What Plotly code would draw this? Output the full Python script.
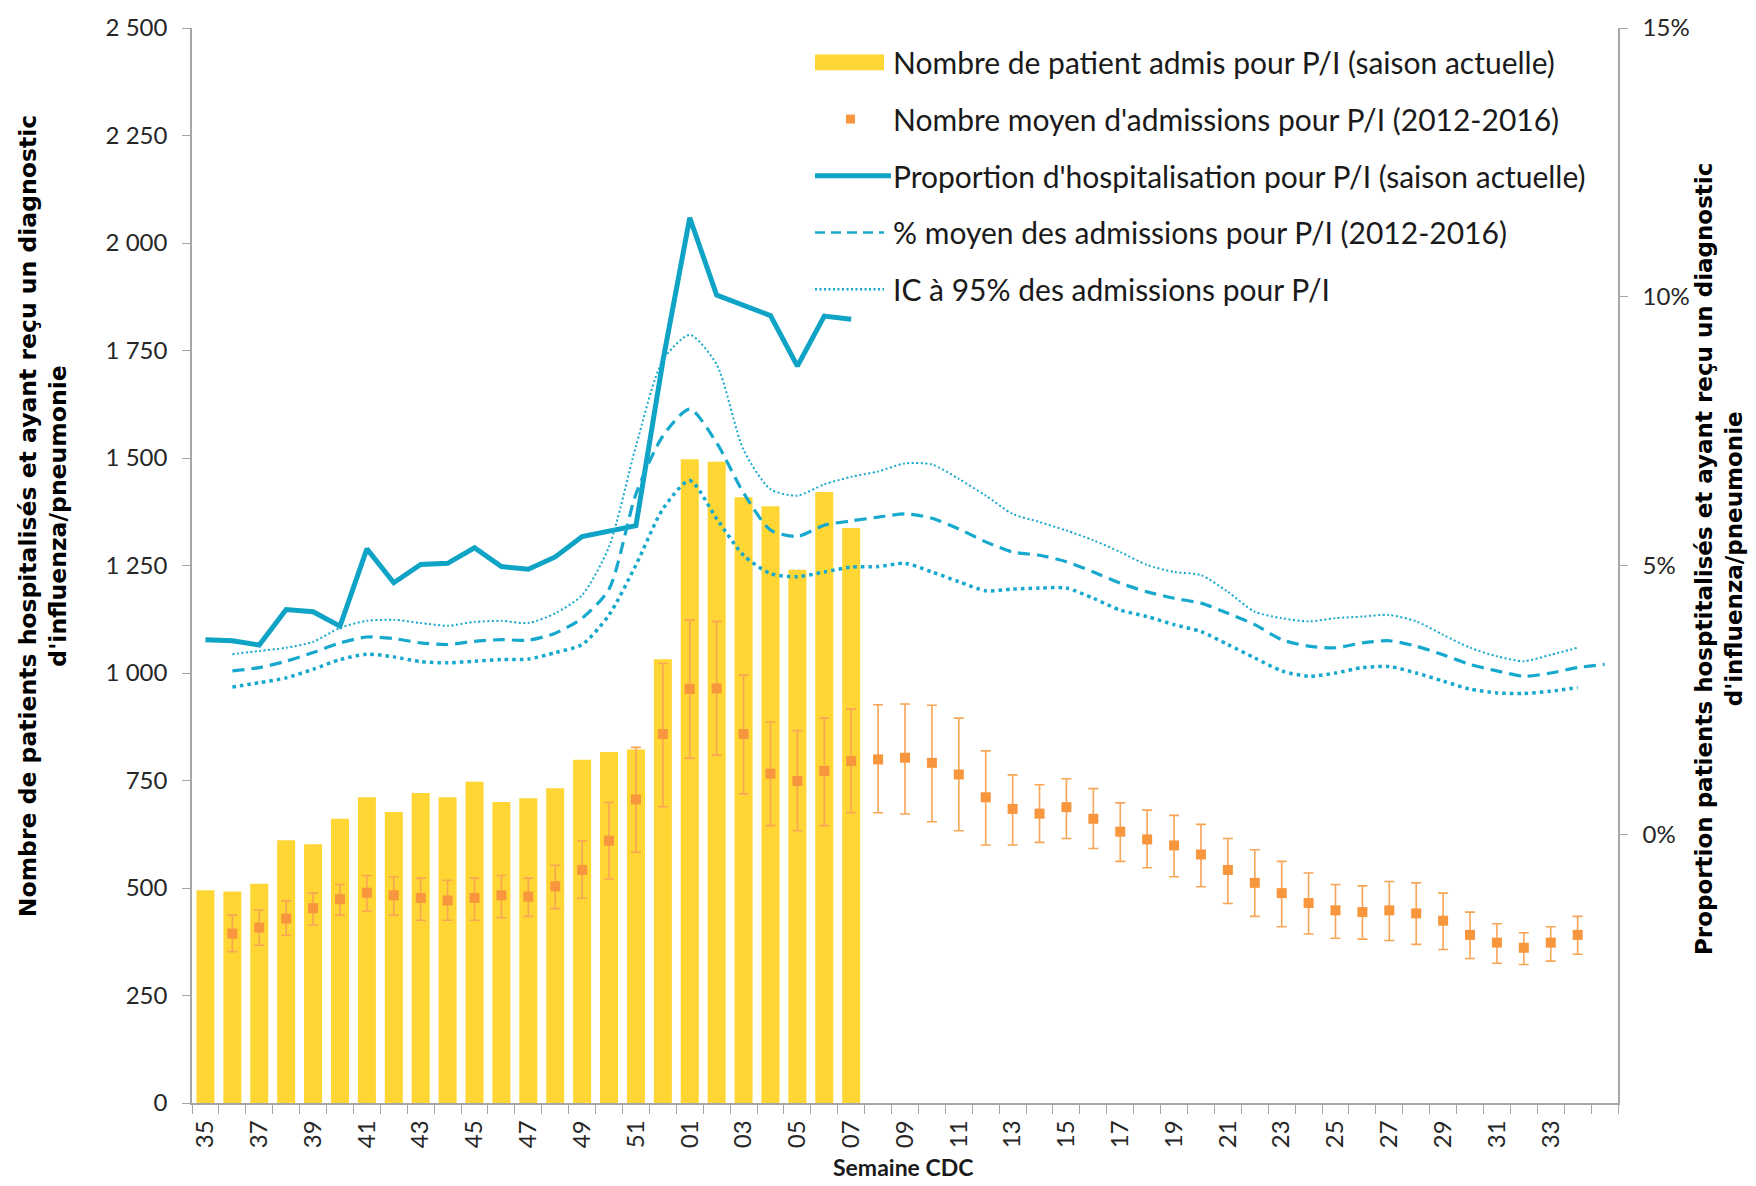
import plotly.graph_objects as go

# ---------------- data ----------------
weeks = ["35", "36", "37", "38", "39", "40", "41", "42", "43", "44", "45", "46",
         "47", "48", "49", "50", "51", "52", "01", "02", "03", "04", "05", "06",
         "07", "08", "09", "10", "11", "12", "13", "14", "15", "16", "17", "18",
         "19", "20", "21", "22", "23", "24", "25", "26", "27", "28", "29", "30",
         "31", "32", "33", "34", ""]

# current season admissions (weeks 35 -> 07)
admis_actuelle = [495, 492, 510, 611, 602, 661, 711, 677, 721, 711, 747, 700, 709,
                  732, 798, 816, 822, 1032, 1497, 1491, 1409, 1388, 1240, 1421, 1337]

# mean admissions 2012-2016 (weeks 36 -> 34) with 95% bounds
admis_moy = [394, 408, 429, 453, 474, 489, 483, 477, 471, 477, 483, 480, 504, 542, 610, 706, 858,
             963, 964, 858, 766, 749, 772, 795, 799, 803, 791, 764, 711, 684, 673, 688, 661,
             631, 613, 599, 578, 542, 512, 488, 465, 448, 444, 448, 441, 424, 391, 373, 361, 373, 391]
admis_haut = [437, 449, 470, 488, 508, 529, 526, 523, 518, 523, 529, 523, 553, 610, 699, 827, 1022,
              1123, 1120, 995, 886, 866, 895, 916, 926, 928, 925, 895, 819, 763, 740, 754, 731,
              698, 681, 669, 648, 615, 589, 562, 535, 508, 505, 515, 512, 488, 444, 417, 396, 410, 434]
admis_bas = [352, 367, 390, 414, 437, 446, 437, 425, 425, 425, 431, 434, 452, 476, 521, 583, 689,
             802, 809, 719, 645, 633, 645, 675, 675, 672, 654, 633, 600, 600, 606, 615, 592,
             562, 547, 526, 503, 464, 434, 410, 393, 383, 381, 378, 369, 357, 336, 325, 322, 330, 346]

# current season proportion (%), weeks 35 -> 07
prop_actuelle = [3.62, 3.60, 3.52, 4.18, 4.14, 3.87, 5.31, 4.68, 5.02, 5.04, 5.33, 4.98, 4.93,
                 5.16, 5.54, 5.63, 5.74, 8.80, 11.47, 10.03, 9.85, 9.65, 8.71, 9.64, 9.58]

# mean proportion 2012-2016 (%), weeks 36 -> last slot
prop_moy = [3.04, 3.10, 3.22, 3.38, 3.56, 3.67, 3.64, 3.56, 3.53, 3.59, 3.62, 3.61, 3.74, 4.02, 4.56, 6.33, 7.41,
            7.91, 7.28, 6.35, 5.66, 5.54, 5.75, 5.83, 5.90, 5.96, 5.88, 5.68, 5.44, 5.25, 5.19, 5.07, 4.88,
            4.67, 4.51, 4.39, 4.30, 4.11, 3.90, 3.62, 3.50, 3.47, 3.56, 3.60, 3.50, 3.34, 3.16, 3.04, 2.94,
            3.00, 3.10, 3.16]

# 95% CI of proportion (%), weeks 36 -> 34
ic_haut = [3.35, 3.41, 3.47, 3.58, 3.84, 3.97, 3.99, 3.93, 3.88, 3.95, 3.97, 3.93, 4.11, 4.45, 5.35, 7.22, 8.82,
           9.29, 8.74, 7.15, 6.42, 6.30, 6.51, 6.65, 6.75, 6.90, 6.88, 6.61, 6.30, 5.96, 5.81, 5.65, 5.47,
           5.25, 5.01, 4.88, 4.82, 4.51, 4.14, 4.02, 3.96, 4.02, 4.05, 4.08, 3.96, 3.71, 3.47, 3.31, 3.22,
           3.34, 3.47]
ic_bas = [2.74, 2.82, 2.91, 3.07, 3.25, 3.35, 3.30, 3.21, 3.19, 3.22, 3.25, 3.26, 3.38, 3.53, 4.08, 5.01, 6.05,
          6.58, 5.87, 5.19, 4.85, 4.79, 4.88, 4.97, 4.98, 5.04, 4.88, 4.70, 4.53, 4.56, 4.58, 4.58, 4.39,
          4.17, 4.05, 3.90, 3.77, 3.53, 3.28, 3.04, 2.94, 3.00, 3.10, 3.12, 3.00, 2.85, 2.70, 2.63, 2.62,
          2.66, 2.73]

pct_ticks = [0, 5, 10, 15]
pct_labels = ["0%", "5%", "10%", "15%"]

legend_labels = ["Nombre de patient admis pour P/I (saison actuelle)",
                 "Nombre moyen d'admissions pour P/I (2012-2016)",
                 "Proportion d'hospitalisation pour P/I (saison actuelle)",
                 "% moyen des admissions pour P/I (2012-2016)",
                 "IC à 95% des admissions pour P/I"]

# ---------------- styles ----------------
W, H = 1756, 1186
ML, MR, MT, MB = 192, 138, 24, 83
PW, PH = W - ML - MR, H - MT - MB
YELLOW = "#FFD633"
ORANGE = "#F7963C"
ORANGE_ERR = "#F9A556"
BLUE = "#0FA3C6"
BLUE2 = "#17A9CD"
GREY = "#A6A6A6"
TXT = "Lato, Roboto, sans-serif"
BOLDF = "DejaVu Sans, Verdana, sans-serif"


def px_x(p):
    return (p - ML) / PW


def px_y(p):
    return (H - MB - p) / PH


x_pos = list(range(len(weeks)))
n_cur = len(admis_actuelle)

err_plus = [h - m for h, m in zip(admis_haut, admis_moy)]
err_minus = [m - b for m, b in zip(admis_moy, admis_bas)]

fig = go.Figure()

fig.add_trace(go.Bar(
    x=x_pos[:n_cur], y=admis_actuelle, width=0.67,
    marker=dict(color=YELLOW, line=dict(width=0)),
    name=legend_labels[0], showlegend=False, yaxis="y"))

fig.add_trace(go.Scatter(
    x=x_pos[1:1 + len(admis_moy)], y=admis_moy, mode="markers",
    marker=dict(symbol="square", size=10, color=ORANGE),
    error_y=dict(type="data", symmetric=False, array=err_plus, arrayminus=err_minus,
                 color=ORANGE_ERR, thickness=1.6, width=5),
    name=legend_labels[1], showlegend=False, yaxis="y"))

fig.add_trace(go.Scatter(
    x=x_pos[:n_cur], y=prop_actuelle, mode="lines",
    line=dict(color=BLUE, width=5),
    name=legend_labels[2], showlegend=False, yaxis="y2"))

fig.add_trace(go.Scatter(
    x=x_pos[1:1 + len(prop_moy)], y=prop_moy, mode="lines",
    line=dict(color=BLUE2, width=3.2, dash="12px,7px", shape="spline", smoothing=0.7),
    name=legend_labels[3], showlegend=False, yaxis="y2"))

fig.add_trace(go.Scatter(
    x=x_pos[1:1 + len(ic_haut)], y=ic_haut, mode="lines",
    line=dict(color=BLUE2, width=2, dash="2px,2.5px", shape="spline", smoothing=0.7),
    name=legend_labels[4], showlegend=False, yaxis="y2"))

fig.add_trace(go.Scatter(
    x=x_pos[1:1 + len(ic_bas)], y=ic_bas, mode="lines",
    line=dict(color=BLUE2, width=3.5, dash="3.5px,4px", shape="spline", smoothing=0.7),
    name=legend_labels[4], showlegend=False, yaxis="y2"))

# ---------------- manual legend ----------------
shapes = []
annotations = []
row0, rstep = 58.5, 56.9
sx0, sx1, tx = 815, 884, 891
for i, lab in enumerate(legend_labels):
    cy = row0 + rstep * i
    annotations.append(dict(x=px_x(tx), y=px_y(cy), xref="paper", yref="paper",
                            text=lab, showarrow=False, xanchor="left", yanchor="middle",
                            font=dict(family=TXT, size=30, color="#1a1a1a")))
    if i == 0:
        shapes.append(dict(type="rect", xref="paper", yref="paper",
                           x0=px_x(sx0), x1=px_x(sx1), y0=px_y(cy - 8), y1=px_y(cy + 8),
                           fillcolor=YELLOW, line=dict(width=0)))
    elif i == 1:
        shapes.append(dict(type="rect", xref="paper", yref="paper",
                           x0=px_x(846), x1=px_x(855), y0=px_y(cy - 4.5), y1=px_y(cy + 4.5),
                           fillcolor=ORANGE, line=dict(width=0)))
    elif i == 2:
        shapes.append(dict(type="line", xref="paper", yref="paper",
                           x0=px_x(sx0), x1=px_x(tx), y0=px_y(cy), y1=px_y(cy),
                           line=dict(color=BLUE, width=5)))
    elif i == 3:
        shapes.append(dict(type="line", xref="paper", yref="paper",
                           x0=px_x(sx0), x1=px_x(sx1), y0=px_y(cy), y1=px_y(cy),
                           line=dict(color=BLUE2, width=2.5, dash="10px,6px")))
    else:
        shapes.append(dict(type="line", xref="paper", yref="paper",
                           x0=px_x(sx0), x1=px_x(sx1), y0=px_y(cy), y1=px_y(cy),
                           line=dict(color=BLUE2, width=2.5, dash="2px,2.5px")))

# axis titles
annotations.append(dict(x=px_x(43), y=px_y(514), xref="paper", yref="paper",
                        text="<b>Nombre de patients hospitalisés et ayant reçu un diagnostic<br>d'influenza/pneumonie</b>",
                        showarrow=False, textangle=-90, xanchor="center", yanchor="middle",
                        font=dict(family=BOLDF, size=23.5, color="#000000")))
annotations.append(dict(x=px_x(1719), y=px_y(557), xref="paper", yref="paper",
                        text="<b>Proportion patients hosptitalisés et ayant reçu un diagnostic<br>d'influenza/pneumonie</b>",
                        showarrow=False, textangle=-90, xanchor="center", yanchor="middle",
                        font=dict(family=BOLDF, size=23, color="#000000")))
annotations.append(dict(x=px_x(903), y=px_y(1167), xref="paper", yref="paper",
                        text="<b>Semaine CDC</b>", showarrow=False, xanchor="center", yanchor="middle",
                        font=dict(family=TXT, size=23, color="#1a1a1a")))

tick_idx = x_pos[0:len(weeks) - 1:2]
fig.update_layout(
    width=W, height=H,
    margin=dict(l=ML, r=MR, t=MT, b=MB, pad=0),
    paper_bgcolor="white", plot_bgcolor="white",
    separators=", ",
    showlegend=False,
    shapes=shapes, annotations=annotations,
    font=dict(family=TXT, size=24, color="#262626"),
    xaxis=dict(range=[-0.5, len(weeks) - 0.5], tickmode="array",
               tickvals=tick_idx, ticktext=[weeks[i] for i in tick_idx],
               ticks="", tickangle=-90, showline=True, linecolor=GREY, linewidth=1.5,
               showgrid=False, zeroline=False, ticklabelstandoff=6,
               tickfont=dict(family=TXT, size=24, color="#262626"),
               minor=dict(tickmode="array", tickvals=[i - 0.5 for i in x_pos] + [len(weeks) - 0.5],
                          ticks="outside", ticklen=9, tickwidth=1.2, tickcolor=GREY, showgrid=False)),
    yaxis=dict(range=[0, 2500], dtick=250, tickformat=",d", ticks="outside", ticklen=8,
               tickwidth=1.2, tickcolor=GREY, showline=True, linecolor=GREY, linewidth=1.5,
               showgrid=False, zeroline=False, ticklabelstandoff=10,
               tickfont=dict(family=TXT, size=24, color="#262626")),
    yaxis2=dict(range=[-5, 15], tickmode="array", tickvals=pct_ticks, ticktext=pct_labels,
                overlaying="y", side="right", ticks="outside", ticklen=8, tickwidth=1.2,
                tickcolor=GREY, showline=True, linecolor=GREY, linewidth=1.5,
                showgrid=False, zeroline=False, ticklabelstandoff=10,
                tickfont=dict(family=TXT, size=24, color="#262626")),
)

fig.write_html("out.html", config={"displayModeBar": False},
               post_script="document.body.style.margin='0';document.body.style.overflow='hidden';")
